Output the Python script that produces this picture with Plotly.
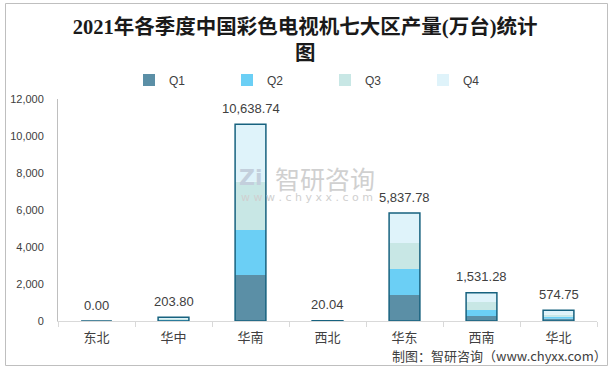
import numpy as np
import plotly.graph_objects as go

regions = ["东北", "华中", "华南", "西北", "华东", "西南", "华北"]
q1 = [0, 51, 2486, 5, 1405, 270, 125]
q2 = [0, 50, 2433, 5, 1406, 325, 108]
q3 = [0, 51, 2611, 5, 1405, 432, 108]
q4 = [0, 51.8, 3108.74, 5.04, 1621.78, 504.28, 233.75]
totals = [0.00, 203.80, 10638.74, 20.04, 5837.78, 1531.28, 574.75]
series_names = ["Q1", "Q2", "Q3", "Q4"]
colors = ["#5b8fa6", "#6bcff5", "#c8e7e5", "#dff3fa"]
outline = "#17627f"

W, H = 614, 369
L, R, T, B = 58, 17, 99, 48
PW, PH = W - L - R, H - T - B


def px_x(px):
    return (px - L) / PW


def px_y(py):
    return (H - B - py) / PH


fig = go.Figure()
stack = np.array([q1, q2, q3, q4], dtype=float)
bases = np.vstack([np.zeros(len(regions)), np.cumsum(stack, axis=0)[:-1]])
for name, vals, base, col in zip(series_names, stack, bases, colors):
    fig.add_trace(go.Bar(
        x=regions, y=vals, base=base, name=name, width=0.4,
        marker=dict(color=col, line=dict(width=0)),
        hoverinfo="skip",
    ))
fig.add_trace(go.Bar(
    x=regions, y=totals, base=0, width=0.4, showlegend=False,
    marker=dict(color="rgba(0,0,0,0)", line=dict(color=outline, width=1.5)),
    hoverinfo="skip",
))

for r, t in zip(regions, totals):
    fig.add_annotation(x=r, y=t, text=f"{t:,.2f}", showarrow=False,
                       yanchor="middle", yshift=16,
                       font=dict(family="Liberation Sans", size=13, color="#404040"))

# watermark
fig.add_annotation(xref="paper", yref="paper", x=px_x(325), y=px_y(178),
                   text="智研咨询", showarrow=False,
                   font=dict(family="Noto Sans CJK SC", size=25, color="#d0d0d0"))
fig.add_annotation(xref="paper", yref="paper", x=px_x(307), y=px_y(197),
                   text="w w w . c h y x x . c o m", showarrow=False,
                   font=dict(family="DejaVu Sans", size=11, color="#d0d0d0"))
fig.add_annotation(xref="paper", yref="paper", x=px_x(251), y=px_y(177),
                   text="<b>Zi</b>", showarrow=False,
                   font=dict(family="DejaVu Sans", size=22, color="#c3cfdc"))

# caption
fig.add_annotation(xref="paper", yref="paper", x=px_x(609), y=px_y(355),
                   xanchor="right", yanchor="middle",
                   text="制图：智研咨询（www.chyxx.com）", showarrow=False,
                   font=dict(family="Noto Sans CJK SC", size=13, color="#404040"))

# outer frame
fig.add_shape(type="rect", xref="paper", yref="paper",
              x0=px_x(5.5), x1=px_x(607.5), y0=px_y(365.5), y1=px_y(3.5),
              line=dict(color="#bfbfbf", width=1), fillcolor="rgba(0,0,0,0)", layer="above")

fig.update_layout(
    width=W, height=H,
    paper_bgcolor="white", plot_bgcolor="white",
    barmode="overlay",
    margin=dict(l=L, r=R, t=T, b=B, autoexpand=False),
    title=dict(text="<b>2021年各季度中国彩色电视机七大区产量(万台)统计<br>图</b>",
               x=0.497, xanchor="center", y=1 - 33.5 / H, yanchor="middle",
               font=dict(family="Liberation Serif, Noto Sans CJK SC", size=20.5, color="#1a1a1a")),
    legend=dict(orientation="h",
                x=px_x(129), xanchor="left", y=px_y(80), yanchor="middle",
                entrywidth=53, entrywidthmode="pixels", itemwidth=30,
                font=dict(family="Liberation Sans", size=12, color="#404040"),
                traceorder="normal"),
    showlegend=True,
    font=dict(family="Noto Sans CJK SC"),
)
fig.update_xaxes(showline=True, linecolor="#d9d9d9", linewidth=1,
                 ticks="outside", tickson="boundaries", ticklen=5, tickcolor="#d9d9d9",
                 tickfont=dict(family="Noto Sans CJK SC", size=13, color="#404040"),
                 ticklabelstandoff=4, automargin=False)
fig.update_yaxes(range=[0, 12000], dtick=2000, tickformat=",", showgrid=False,
                 showline=True, linecolor="#bfbfbf", zeroline=False, ticks="",
                 tickfont=dict(family="Liberation Sans", size=11, color="#404040"),
                 ticklabelstandoff=11, automargin=False)

fig.write_html("out.html", config={"displayModeBar": False},
               post_script="document.body.style.margin='0';document.body.style.overflow='hidden';")
